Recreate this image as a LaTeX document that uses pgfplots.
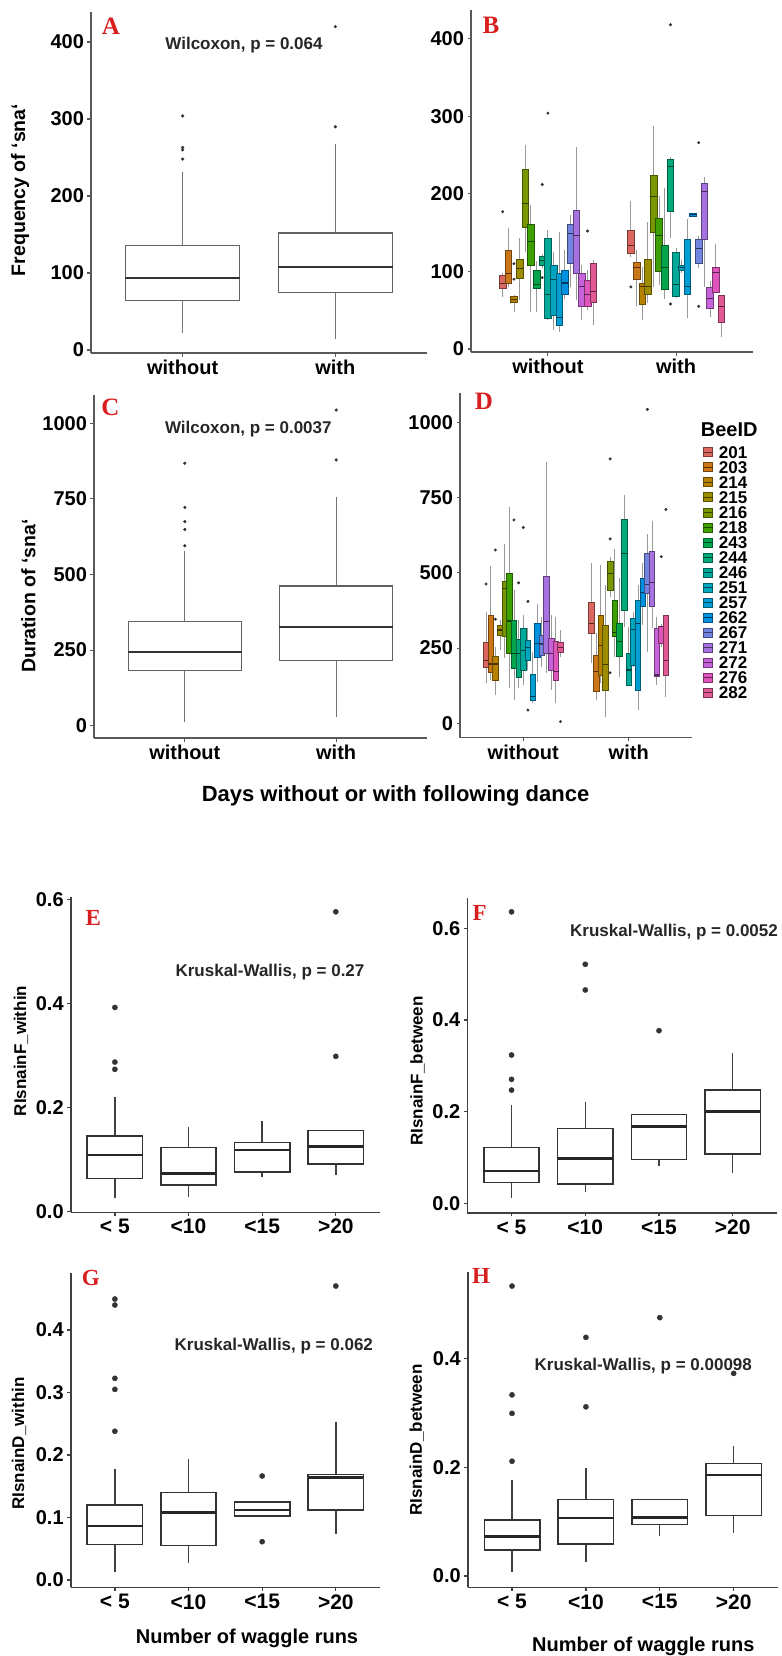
\documentclass[border=0pt]{standalone}
\usepackage{fontspec}
\setmainfont{Liberation Sans}
\newfontfamily\serifbf{Liberation Serif}
\usepackage{pgfplots}
\pgfplotsset{compat=1.18}
\newcommand{\fs}[1]{\fontsize{#1bp}{#1bp}\selectfont}
\definecolor{panelred}{HTML}{D81E1E}
\definecolor{c1}{HTML}{F8766D}
\definecolor{c2}{HTML}{E7861B}
\definecolor{c3}{HTML}{D09400}
\definecolor{c4}{HTML}{B2A000}
\definecolor{c5}{HTML}{8AAB00}
\definecolor{c6}{HTML}{45B500}
\definecolor{c7}{HTML}{00BC56}
\definecolor{c8}{HTML}{00C08B}
\definecolor{c9}{HTML}{00C0AF}
\definecolor{c10}{HTML}{00BCD8}
\definecolor{c11}{HTML}{00B4EF}
\definecolor{c12}{HTML}{00A5FF}
\definecolor{c13}{HTML}{7F96FF}
\definecolor{c14}{HTML}{BC81FF}
\definecolor{c15}{HTML}{E270F8}
\definecolor{c16}{HTML}{FC61D5}
\definecolor{c17}{HTML}{FF66A8}
\pgfplotsset{
  myaxis/.style={scale only axis, anchor=south west, clip=false,
    axis lines=left, axis line style={-, draw=black!65, line width=1.3bp},
    tick align=outside, major tick length=3.5bp,
    tick style={draw=black!65, line width=1.1bp},
    ticklabel style={font=\bfseries\fs{20}, text=black},
    /pgf/number format/assume math mode=true,
    /pgf/number format/1000 sep={},
    ylabel style={font=\bfseries\fs{19.5}, anchor=center}},
  myaxisB/.style={myaxis, axis line style={-, draw=black!75, line width=1.6bp},
    tick style={draw=black!75, line width=1.3bp},
    xticklabel style={font=\bfseries\fs{21}},
    yticklabel style={/pgf/number format/fixed, /pgf/number format/fixed zerofill, /pgf/number format/precision=1},
    ylabel style={font=\bfseries\fs{17}, anchor=center},
    xmin=0.4, xmax=4.6, xtick={1,2,3,4}, xticklabels={{< 5},{<10},{<15},{>20}}},
  beeleg/.style={legend image code/.code={
    \draw[fill=#1!88!black, draw=#1!50!black, line width=0.6bp] (0bp,-4.5bp) rectangle (9bp,4.5bp);
    \draw[draw=#1!40!black, line width=0.8bp] (0bp,0bp) -- (9bp,0bp);}}
}
% grey boxplot (panels A, C): pos, lower whisker, Q1, median, Q3, upper whisker, outliers
\newcommand{\boxA}[7]{%
  \pgfmathsetmacro\xl{#1-0.375}\pgfmathsetmacro\xr{#1+0.375}%
  \addplot[draw=black!55, line width=1bp] coordinates {(#1,#2)(#1,#3)};
  \addplot[draw=black!55, line width=1bp] coordinates {(#1,#5)(#1,#6)};
  \addplot[draw=black!62, fill=white, line width=1.1bp] coordinates {(\xl,#3)(\xr,#3)(\xr,#5)(\xl,#5)} --cycle;
  \addplot[draw=black!80, line width=1.8bp] coordinates {(\xl,#4)(\xr,#4)};
  \ifx\relax#7\relax\else\addplot[only marks, mark=*, mark size=1.4bp, mark options={fill=black!80, draw=black!80}] coordinates {#7};\fi
}
% black boxplot (panels E-H)
\newcommand{\boxE}[7]{%
  \pgfmathsetmacro\xl{#1-0.375}\pgfmathsetmacro\xr{#1+0.375}%
  \addplot[draw=black!75, line width=1.4bp] coordinates {(#1,#2)(#1,#3)};
  \addplot[draw=black!75, line width=1.4bp] coordinates {(#1,#5)(#1,#6)};
  \addplot[draw=black!80, fill=white, line width=1.6bp] coordinates {(\xl,#3)(\xr,#3)(\xr,#5)(\xl,#5)} --cycle;
  \addplot[draw=black!85, line width=2.6bp] coordinates {(\xl,#4)(\xr,#4)};
  \ifx\relax#7\relax\else\addplot[only marks, mark=*, mark size=2.6bp, mark options={fill=black!80, draw=black!80}] coordinates {#7};\fi
}
% coloured boxplot per bee (panels B, D): colour, pos, lw, Q1, median, Q3, uw, outliers
\newcommand{\bee}[8]{%
  \pgfmathsetmacro\xl{#2-0.026}\pgfmathsetmacro\xr{#2+0.026}%
  \addplot[draw=black!40, line width=0.9bp] coordinates {(#2,#3)(#2,#4)};
  \addplot[draw=black!40, line width=0.9bp] coordinates {(#2,#6)(#2,#7)};
  \addplot[fill=#1!88!black, draw=#1!50!black, line width=0.6bp] coordinates {(\xl,#4)(\xr,#4)(\xr,#6)(\xl,#6)} --cycle;
  \addplot[draw=#1!35!black, line width=1.1bp] coordinates {(\xl,#5)(\xr,#5)};
  \ifx\relax#8\relax\else\addplot[only marks, mark=*, mark size=1.3bp, mark options={fill=black!80, draw=black!80}] coordinates {#8};\fi
}
\begin{document}
\begin{tikzpicture}
% ---------------- A ----------------
\begin{axis}[myaxis, at={(91bp,-353bp)}, width=336bp, height=341bp,
  xmin=0.4, xmax=2.6, ymin=-3.9, ymax=439, ytick={0,100,200,300,400},
  xtick={1,2}, xticklabels={without,with},
  ylabel={Frequency of ‘sna‘}, ylabel style={at={(axis description cs:-0.211,0.478)}}]
\boxA{1}{22}{64}{94}{136}{231}{(1,304)(1,263)(1,260)(1,248)}
\boxA{2}{14}{75}{108}{152}{268}{(2,290)(2,420)}
\end{axis}
% ---------------- B ----------------
\begin{axis}[myaxis, at={(471bp,-352bp)}, width=282bp, height=342bp,
  xmin=0.4, xmax=2.6, ymin=-3.9, ymax=437, ytick={0,100,200,300,400},
  xtick={1,2}, xticklabels={without,with}]
\bee{c1}{0.6471}{67.5}{78}{84}{95}{98}{(0.6471,177)}
\bee{c2}{0.6912}{80}{85}{97}{127}{156}{}
\bee{c3}{0.7353}{48}{60}{64}{67.5}{70}{(0.7353,110)(0.7353,90)}
\bee{c4}{0.7794}{63}{91}{104}{116}{143}{}
\bee{c5}{0.8235}{125}{157}{188}{232}{263}{}
\bee{c6}{0.8676}{48}{108}{139}{161}{186}{}
\bee{c7}{0.9118}{48}{78}{83}{101}{113}{}
\bee{c8}{0.9559}{104}{108}{114}{119}{122}{(0.9559,212)(0.9559,92)}
\bee{c9}{1.0}{37}{40}{70}{143}{154}{(1.0,304)}
\bee{c10}{1.0441}{24}{44}{90}{108}{125}{}
\bee{c11}{1.0882}{22}{31}{41}{97}{151}{}
\bee{c12}{1.1324}{65}{71}{85}{102}{128}{}
\bee{c13}{1.1765}{80}{111}{149}{161}{173}{}
\bee{c14}{1.2206}{63}{98}{146}{179}{261}{}
\bee{c15}{1.2647}{37}{55}{81}{97}{108}{}
\bee{c16}{1.3088}{50}{55}{70}{88}{102}{(1.3088,152)}
\bee{c17}{1.3529}{31}{60}{74}{111}{115}{}
\bee{c1}{1.6471}{119}{123}{133}{153}{191}{(1.6471,80)}
\bee{c2}{1.6912}{55}{90}{105}{112}{128}{}
\bee{c3}{1.7353}{37}{57}{80}{85}{106}{}
\bee{c4}{1.7794}{59}{70}{80}{116}{164}{}
\bee{c5}{1.8235}{80}{150}{197}{224}{288}{}
\bee{c6}{1.8676}{83}{100}{146}{168}{197}{}
\bee{c7}{1.9118}{65}{77}{105}{134}{207}{}
\bee{c8}{1.9559}{143}{178}{235}{245}{248}{(1.9559,418)(1.9559,58)}
\bee{c9}{2.0}{67}{67.5}{83}{125}{130}{}
\bee{c10}{2.0441}{98}{101}{105}{108}{115}{}
\bee{c11}{2.0882}{40}{71}{80}{141}{167}{}
\bee{c12}{2.1324}{171}{171.5}{173}{174.5}{175}{}
\bee{c13}{2.1765}{105}{110}{130}{141}{146}{(2.1765,266)(2.1765,55)}
\bee{c14}{2.2206}{80}{141}{203}{213}{222}{}
\bee{c15}{2.2647}{41}{52}{65}{80}{88}{}
\bee{c16}{2.3088}{73}{73}{99}{105}{135}{}
\bee{c17}{2.3529}{16}{34}{55}{69}{69}{}
\end{axis}
% ---------------- C ----------------
\begin{axis}[myaxis, at={(94bp,-738bp)}, width=333bp, height=343bp,
  xmin=0.4, xmax=2.6, ymin=-40.7, ymax=1093.6, ytick={0,250,500,750,1000},
  xtick={1,2}, xticklabels={without,with},
  ylabel={Duration of ‘sna‘}, ylabel style={at={(axis description cs:-0.197,0.414)}}]
\boxA{1}{13}{184}{245}{346}{579}{(1,595)(1,649)(1,675)(1,722)(1,868)}
\boxA{2}{27.6}{215}{327}{462}{757}{(2,879)(2,1044)}
\end{axis}
% ---------------- D ----------------
\begin{axis}[myaxis, at={(460bp,-737.7bp)}, width=232bp, height=344.7bp,
  xmin=0.4, xmax=2.6, ymin=-48, ymax=1098, ytick={0,250,500,750,1000},
  xtick={1,2}, xticklabels={without,with},
  legend style={at={(1.0474,0.846)}, anchor=north west, draw=none, fill=none,
    inner xsep=0pt, inner ysep=0pt, row sep=3.15bp, column sep=6bp,
    font=\bfseries\fs{17}, nodes={inner sep=0pt, text depth=0pt}},
  legend cell align=left,
  legend entries={201,203,214,215,216,218,243,244,246,251,257,262,267,271,272,276,282}]
\addlegendimage{beeleg=c1}\addlegendimage{beeleg=c2}\addlegendimage{beeleg=c3}
\addlegendimage{beeleg=c4}\addlegendimage{beeleg=c5}\addlegendimage{beeleg=c6}
\addlegendimage{beeleg=c7}\addlegendimage{beeleg=c8}\addlegendimage{beeleg=c9}
\addlegendimage{beeleg=c10}\addlegendimage{beeleg=c11}\addlegendimage{beeleg=c12}
\addlegendimage{beeleg=c13}\addlegendimage{beeleg=c14}\addlegendimage{beeleg=c15}
\addlegendimage{beeleg=c16}\addlegendimage{beeleg=c17}
\bee{c1}{0.6471}{133}{186}{210}{269}{371}{(0.6471,463)}
\bee{c2}{0.6912}{144}{169.5}{197}{358}{523}{}
\bee{c3}{0.7353}{94}{144}{197}{222}{255}{(0.7353,576)(0.7353,346)}
\bee{c4}{0.7794}{244}{293.6}{310}{327}{343}{}
\bee{c5}{0.8235}{216}{288}{449}{471}{595}{}
\bee{c6}{0.8676}{116}{233}{340}{498.6}{720}{}
\bee{c7}{0.9118}{78}{183}{233}{343.5}{443}{(0.9118,676)}
\bee{c8}{0.9559}{116}{153}{233}{279}{343}{(0.9559,467)}
\bee{c9}{1.0}{127}{177}{241.5}{316}{360}{(1.0,651)}
\bee{c10}{1.0441}{177}{210.5}{252.6}{277}{316}{(1.0441,405)(1.0441,44)}
\bee{c11}{1.0882}{66}{77.6}{88.6}{163}{238}{}
\bee{c12}{1.1324}{138.5}{219}{266}{332}{397}{}
\bee{c13}{1.1765}{188}{227}{263.7}{293.6}{354.6}{}
\bee{c14}{1.2206}{166}{233}{338}{487.5}{870}{}
\bee{c15}{1.2647}{111}{177}{233}{282.5}{360}{}
\bee{c16}{1.3088}{66.5}{144}{172}{271.5}{354.6}{}
\bee{c17}{1.3529}{221.6}{235}{252.6}{268}{310}{(1.3529,5.5)}
\bee{c1}{1.6471}{199}{299}{332}{401}{532}{}
\bee{c2}{1.6912}{77.5}{105}{171.6}{227}{299}{}
\bee{c3}{1.7353}{133}{160.5}{260}{360}{526}{}
\bee{c4}{1.7794}{22}{110.7}{194}{326.6}{460}{}
\bee{c5}{1.8235}{421}{443}{498.5}{537}{554}{(1.8235,879)(1.8235,613)(1.8235,168)}
\bee{c6}{1.8676}{221.6}{288}{302}{410}{581}{}
\bee{c7}{1.9118}{155}{221.6}{273}{332}{482}{}
\bee{c8}{1.9559}{321}{376.5}{565}{677.6}{759}{}
\bee{c9}{2.0}{127}{127}{177}{232.5}{321}{}
\bee{c10}{2.0441}{188}{194}{312}{349}{371}{}
\bee{c11}{2.0882}{44}{110.7}{332}{410}{460}{}
\bee{c12}{2.1324}{326.6}{387.6}{435}{482}{532}{}
\bee{c13}{2.1765}{238}{432}{460}{565}{628}{(2.1765,1043.6)}
\bee{c14}{2.2206}{315.7}{387.6}{468.6}{570.6}{673.5}{}
\bee{c15}{2.2647}{127}{155}{160.6}{315.7}{354.6}{}
\bee{c16}{2.3088}{255}{266}{321}{321}{330}{(2.3088,554)}
\bee{c17}{2.3529}{88.6}{160.5}{210}{360}{360}{(2.3529,711)}
\end{axis}
% ---------------- E ----------------
\begin{axis}[myaxisB, at={(70.7bp,-1212.3bp)}, width=309.3bp, height=315.6bp,
  ymin=-0.001, ymax=0.606, ytick={0,0.2,0.4,0.6},
  ylabel={RIsnainF\_within}, ylabel style={at={(axis description cs:-0.161,0.511)}}]
\boxE{1}{0.0256}{0.064}{0.109}{0.1455}{0.22}{(1,0.274)(1,0.288)(1,0.393)}
\boxE{2}{0.029}{0.051}{0.074}{0.124}{0.163}{}
\boxE{3}{0.066}{0.077}{0.1186}{0.133}{0.174}{}
\boxE{4}{0.0705}{0.0917}{0.126}{0.156}{0.156}{(4,0.299)(4,0.577)}
\end{axis}
% ---------------- F ----------------
\begin{axis}[myaxisB, at={(467.3bp,-1212.7bp)}, width=309.7bp, height=314.4bp,
  ymin=-0.0205, ymax=0.6655, ytick={0,0.2,0.4,0.6},
  ylabel={RIsnainF\_between}, ylabel style={at={(axis description cs:-0.161,0.451)}}]
\boxE{1}{0.011}{0.045}{0.0705}{0.122}{0.2145}{(1,0.247)(1,0.2705)(1,0.3236)(1,0.636)}
\boxE{2}{0.025}{0.042}{0.098}{0.1636}{0.222}{(2,0.4655)(2,0.5215)}
\boxE{3}{0.0815}{0.096}{0.167}{0.194}{0.194}{(3,0.3767)}
\boxE{4}{0.0655}{0.107}{0.2}{0.247}{0.329}{}
\end{axis}
% ---------------- G ----------------
\begin{axis}[myaxisB, at={(70.7bp,-1587.3bp)}, width=309.3bp, height=314.6bp,
  ymin=-0.0117, ymax=0.4917, ytick={0,0.1,0.2,0.3,0.4},
  ylabel={RIsnainD\_within}, ylabel style={at={(axis description cs:-0.167,0.457)}}]
\boxE{1}{0.0123}{0.057}{0.0864}{0.12}{0.1776}{(1,0.238)(1,0.305)(1,0.3227)(1,0.44)(1,0.4496)}
\boxE{2}{0.0277}{0.055}{0.108}{0.14}{0.193}{}
\boxE{3}{0.1024}{0.1024}{0.112}{0.1253}{0.1253}{(3,0.1664)(3,0.0613)}
\boxE{4}{0.0736}{0.112}{0.1637}{0.169}{0.2523}{(4,0.4704)}
\end{axis}
% ---------------- H ----------------
\begin{axis}[myaxisB, at={(467.7bp,-1587.3bp)}, width=310.3bp, height=315.6bp,
  ymin=-0.0208, ymax=0.5594, ytick={0,0.2,0.4},
  ylabel={RIsnainD\_between}, ylabel style={at={(axis description cs:-0.164,0.467)}}]
\boxE{1}{0.008}{0.048}{0.0723}{0.103}{0.1765}{(1,0.211)(1,0.299)(1,0.333)(1,0.533)}
\boxE{2}{0.026}{0.0588}{0.107}{0.141}{0.198}{(2,0.311)(2,0.4387)}
\boxE{3}{0.0735}{0.095}{0.108}{0.141}{0.141}{(3,0.475)}
\boxE{4}{0.0797}{0.111}{0.1857}{0.207}{0.239}{(4,0.3725)}
\end{axis}
% ---------------- text ----------------
\begin{scope}[every node/.style={font=\serifbf\bfseries\fs{25}, text=panelred}]
\node at (110.8bp,-26.7bp) {A};
\node at (491bp,-25.5bp) {B};
\node at (110.5bp,-407bp) {C};
\node at (484bp,-401bp) {D};
\node[font=\serifbf\bfseries\fs{23}] at (93.3bp,-917.5bp) {E};
\node[font=\serifbf\bfseries\fs{23}] at (479.7bp,-913.3bp) {F};
\node[font=\serifbf\bfseries\fs{23}] at (90.7bp,-1277.5bp) {G};
\node[font=\serifbf\bfseries\fs{23}] at (481bp,-1275.8bp) {H};
\end{scope}
\begin{scope}[every node/.style={font=\bfseries\fs{17}, text=black!85, anchor=base, inner sep=0pt}]
\node at (244bp,-49.3bp) {Wilcoxon, p = 0.064};
\node at (248.3bp,-433.3bp) {Wilcoxon, p = 0.0037};
\node at (270bp,-976.7bp) {Kruskal-Wallis, p = 0.27};
\node at (674bp,-936bp) {Kruskal-Wallis, p = 0.0052};
\node at (273.8bp,-1350.7bp) {Kruskal-Wallis, p = 0.062};
\node at (643.3bp,-1370bp) {Kruskal-Wallis, p = 0.00098};
\end{scope}
\node[font=\bfseries\fs{22}, anchor=base, inner sep=0pt] at (395.5bp,-801.7bp) {Days without or with following dance};
\node[font=\bfseries\fs{20}, anchor=base, inner sep=0pt] at (247bp,-1643.3bp) {Number of waggle runs};
\node[font=\bfseries\fs{20}, anchor=base, inner sep=0pt] at (643.3bp,-1651.7bp) {Number of waggle runs};
\node[font=\bfseries\fs{20}, anchor=base west, inner sep=0pt] at (700.7bp,-436bp) {BeeID};
\pgfresetboundingbox
\path[use as bounding box] (0bp,0bp) rectangle (782bp,-1656bp);
\end{tikzpicture}
\end{document}
